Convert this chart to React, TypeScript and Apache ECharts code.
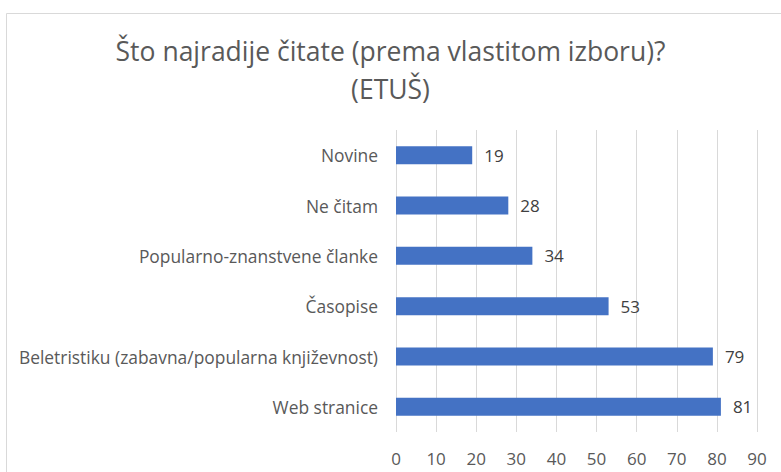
import React, { useEffect, useRef } from "react";
import * as echarts from "echarts";

const categories = [
  "Web stranice",
  "Beletristiku (zabavna/popularna književnost)",
  "Časopise",
  "Popularno-znanstvene članke",
  "Ne čitam",
  "Novine",
];
const values = [81, 79, 53, 34, 28, 19];
const titleText = "Što najradije čitate (prema vlastitom izboru)?\n(ETUŠ)";

const FONT = "'Open Sans', sans-serif";

export default function App() {
  const ref = useRef<HTMLDivElement>(null);
  useEffect(() => {
    const chart = echarts.init(ref.current!, null, { renderer: "svg" });
    chart.setOption({
      animation: false,
      backgroundColor: "#ffffff",
      title: {
        text: titleText,
        left: "center",
        top: 27,
        textStyle: {
          fontFamily: FONT,
          fontWeight: "normal",
          fontSize: 26.5,
          color: "#595959",
          lineHeight: 38,
        },
      },
      graphic: [
        {
          type: "rect",
          left: 4,
          top: 11,
          shape: { width: 820, height: 500 },
          style: { fill: "none", stroke: "#d9d9d9", lineWidth: 1 },
          silent: true,
        },
      ],
      grid: { left: 396, right: 24, top: 130, bottom: 40, containLabel: false },
      xAxis: {
        type: "value",
        min: 0,
        max: 90,
        interval: 10,
        axisLine: { show: false },
        axisTick: { show: false },
        splitLine: { lineStyle: { color: "#d9d9d9", width: 1 } },
        axisLabel: {
          color: "#595959",
          fontFamily: FONT,
          fontSize: 17,
          margin: 18,
        },
      },
      yAxis: {
        type: "category",
        data: categories,
        axisLine: { show: false },
        axisTick: { show: false },
        axisLabel: {
          color: "#595959",
          fontFamily: FONT,
          fontSize: 17.4,
          margin: 18,
        },
      },
      series: [
        {
          type: "bar",
          data: values,
          barWidth: 18,
          itemStyle: { color: "#4472c4" },
          label: {
            show: true,
            position: "right",
            distance: 12,
            color: "#404040",
            fontFamily: FONT,
            fontSize: 17,
          },
        },
      ],
    });
    return () => chart.dispose();
  }, []);
  return <div ref={ref} style={{ width: 781, height: 472, position: "absolute", left: 0, top: 0 }} />;
}
